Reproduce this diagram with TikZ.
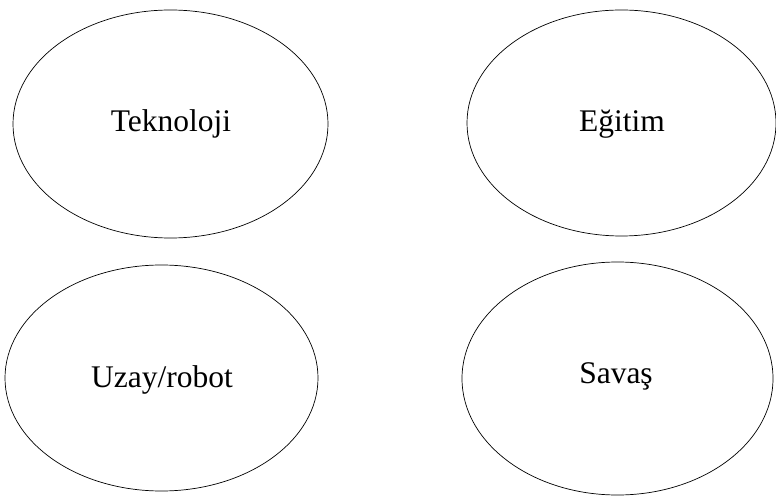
\documentclass[tikz,border=0pt]{standalone}
\usepackage{fontspec}
\setmainfont{Liberation Serif}
\usetikzlibrary{shapes.geometric}
\begin{document}
\begin{tikzpicture}[x=1pt,y=-1pt,
  topic/.style={draw=black, line width=0.7pt},
  label/.style={font=\fontsize{31.5}{38}\selectfont, inner sep=0pt}]
\useasboundingbox (0,0) rectangle (776,502);
% four topic ellipses
\draw[topic] (170.5,124) ellipse [x radius=157.5, y radius=114];
\draw[topic] (621.5,123) ellipse [x radius=154.5, y radius=113];
\draw[topic] (161.5,378) ellipse [x radius=156.5, y radius=113];
\draw[topic] (617.5,378.5) ellipse [x radius=155.5, y radius=116.5];
% labels
\node[label] (tek) at (171,124) {Teknoloji};
\node[label] (egi) at (622,124) {Eğitim};
\node[label] (uza) at (162,380) {Uzay/robot};
\node[label] (sav) at (616,376) {Savaş};
\end{tikzpicture}
\end{document}
